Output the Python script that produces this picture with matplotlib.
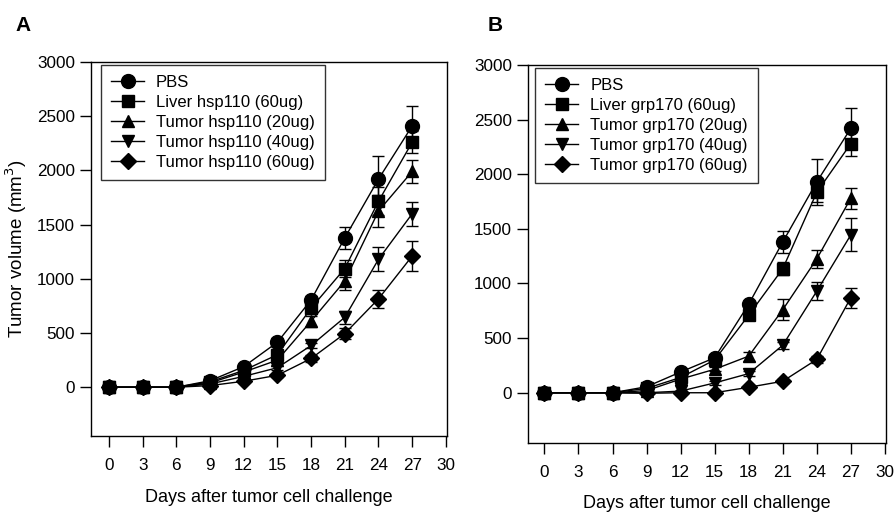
import matplotlib
matplotlib.use("Agg")
import matplotlib.pyplot as plt

plt.rcParams["font.family"] = ["Liberation Sans", "DejaVu Sans"]

days = [0, 3, 6, 9, 12, 15, 18, 21, 24, 27]

# Panel A - hsp110
a_labels = ["PBS", "Liver hsp110 (60ug)", "Tumor hsp110 (20ug)",
            "Tumor hsp110 (40ug)", "Tumor hsp110 (60ug)"]
a_pbs = [0, 0, 0, 60, 190, 415, 805, 1378, 1920, 2410]
a_liver = [0, 0, 0, 50, 155, 300, 730, 1095, 1715, 2260]
a_t20 = [0, 0, 0, 40, 140, 250, 610, 980, 1625, 1990]
a_t40 = [0, 0, 0, 30, 100, 180, 385, 645, 1180, 1600]
a_t60 = [0, 0, 0, 15, 55, 110, 265, 495, 815, 1210]
a_pbs_err = [0, 0, 0, 10, 20, 40, 40, 100, 210, 185]
a_liver_err = [0, 0, 0, 10, 20, 30, 50, 80, 130, 100]
a_t20_err = [0, 0, 0, 10, 20, 30, 50, 80, 145, 110]
a_t40_err = [0, 0, 0, 5, 15, 20, 20, 60, 110, 110]
a_t60_err = [0, 0, 0, 5, 10, 15, 30, 50, 80, 135]

# Panel B - grp170
b_labels = ["PBS", "Liver grp170 (60ug)", "Tumor grp170 (20ug)",
            "Tumor grp170 (40ug)", "Tumor grp170 (60ug)"]
b_pbs = [0, 0, 0, 55, 190, 320, 810, 1380, 1930, 2420]
b_liver = [0, 0, 0, 40, 140, 300, 710, 1135, 1835, 2280]
b_t20 = [0, 0, 0, 20, 125, 215, 335, 760, 1225, 1780]
b_t40 = [0, 0, 0, 0, 15, 90, 175, 435, 930, 1445]
b_t60 = [0, 0, 0, -5, 0, 0, 50, 105, 305, 870]
b_pbs_err = [0, 0, 0, 10, 20, 30, 30, 100, 210, 185]
b_liver_err = [0, 0, 0, 10, 20, 30, 40, 60, 90, 110]
b_t20_err = [0, 0, 0, 5, 15, 20, 40, 95, 85, 95]
b_t40_err = [0, 0, 0, 0, 5, 15, 20, 30, 85, 150]
b_t60_err = [0, 0, 0, 0, 0, 0, 10, 20, 30, 90]

markers = ["o", "s", "^", "v", "D"]
msizes = [10, 8.5, 9, 9, 8.5]

fig = plt.figure(figsize=(8.95, 5.12), dpi=100)
ax_a = fig.add_axes([91 / 895, 1 - 436 / 512, 356 / 895, 374 / 512])
ax_b = fig.add_axes([528 / 895, 1 - 443 / 512, 358 / 895, 378 / 512])


def draw(ax, labels, series, errs, xlo, ylo, leg_x):
    for lab, ys, es, m, ms in zip(labels, series, errs, markers, msizes):
        ax.errorbar(days, ys, yerr=es, fmt="none", ecolor="black",
                    elinewidth=1.0, capsize=4, capthick=1.0)
        ax.plot(days, ys, color="black", marker=m, markersize=ms, lw=1.0,
                label=lab)
    ax.set_xlim(xlo, 30.1)
    ax.set_ylim(ylo, 3000)
    ax.set_xticks(range(0, 31, 3))
    ax.set_yticks(range(0, 3001, 500))
    ax.tick_params(direction="out", length=8, width=1, labelsize=12.3)
    ax.tick_params(axis="x", pad=8)
    for s in ax.spines.values():
        s.set_linewidth(1.0)
    ax.set_xlabel("Days after tumor cell challenge", fontsize=13, labelpad=11)
    leg = ax.legend(loc="upper left", bbox_to_anchor=(leg_x, 0.993),
                    borderaxespad=0, fontsize=12, frameon=True, fancybox=False,
                    edgecolor="black", handlelength=2.0, handletextpad=0.7,
                    borderpad=0.6, labelspacing=0.3)
    leg.get_frame().set_linewidth(1.0)


draw(ax_a, a_labels, [a_pbs, a_liver, a_t20, a_t40, a_t60],
     [a_pbs_err, a_liver_err, a_t20_err, a_t40_err, a_t60_err],
     -1.6, -450, 0.028)
draw(ax_b, b_labels, [b_pbs, b_liver, b_t20, b_t40, b_t60],
     [b_pbs_err, b_liver_err, b_t20_err, b_t40_err, b_t60_err],
     -1.45, -460, 0.02)

ax_a.set_ylabel("Tumor volume (mm$^3$)", fontsize=13.5, labelpad=6)

fig.text(0.017, 0.94, "A", fontsize=15, fontweight="bold")
fig.text(0.545, 0.94, "B", fontsize=15, fontweight="bold")

fig.savefig("out.png", dpi=100)
